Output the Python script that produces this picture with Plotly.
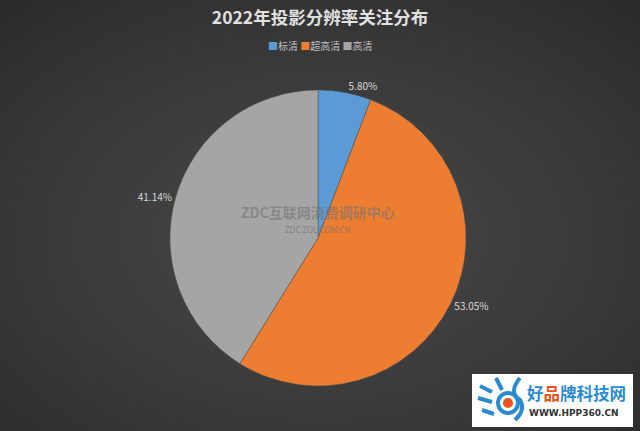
import plotly.graph_objects as go
import numpy as np
import zlib, struct, base64

labels = ["标清", "超高清", "高清"]
values = [5.80, 53.05, 41.14]
text_labels = ["5.80%", "53.05%", "41.14%"]
colors = ["#5B9BD5", "#ED7D31", "#A5A5A5"]

# ---- radial gradient background (style only) ----
W, H = 160, 108
yy, xx = np.mgrid[0:H, 0:W]
d = np.sqrt(((xx + 0.5) / W - 0.5) ** 2 * 4 + ((yy + 0.5) / H - 0.55) ** 2 * 4) / np.sqrt(2)
img = np.clip(71 - 26 * d ** 1.3, 0, 255).astype(np.uint8)
raw = b"".join(b"\x00" + img[r].tobytes() for r in range(H))
def chunk(t, data):
    c = struct.pack(">I", len(data)) + t + data
    return c + struct.pack(">I", zlib.crc32(t + data) & 0xffffffff)
png = (b"\x89PNG\r\n\x1a\n" + chunk(b"IHDR", struct.pack(">IIBBBBB", W, H, 8, 0, 0, 0, 0))
       + chunk(b"IDAT", zlib.compress(raw, 9)) + chunk(b"IEND", b""))
bg_uri = "data:image/png;base64," + base64.b64encode(png).decode()

def px(x): return x / 640
def py(y): return 1 - y / 431

fig = go.Figure()
fig.add_trace(go.Pie(
    labels=labels, values=values, text=text_labels,
    textinfo="text", textposition="outside",
    sort=False, direction="clockwise", rotation=0,
    marker=dict(colors=colors, line=dict(color="#505050", width=0.5)),
    textfont=dict(family="Noto Sans CJK SC", size=10, color="#D9D9D9"),
    domain=dict(x=[px(170), px(466)], y=[py(386), py(90)]),
    hoverinfo="label+percent",
    showlegend=False,
))

fig.update_layout(
    width=640, height=431,
    margin=dict(l=0, r=0, t=0, b=0),
    paper_bgcolor="#3C3C3C", plot_bgcolor="#3C3C3C",
    title=dict(text="<b>2022年投影分辨率关注分布</b>", x=0.5, xanchor="center",
               y=py(18), yanchor="middle",
               font=dict(family="Noto Sans CJK SC", size=17.5, color="#E0E0E0")),
    font=dict(family="Noto Sans CJK SC"),
    images=[dict(source=bg_uri, xref="paper", yref="paper", x=0, y=1, sizex=1, sizey=1,
                 xanchor="left", yanchor="top", sizing="stretch", layer="below")],
)

# compact legend row, built from the series names and colours
legend_html = " ".join(
    f"<span style='color:{c}'>■</span>{lab}" for lab, c in zip(labels, colors))
fig.add_annotation(text=legend_html, x=0.5, y=py(45), xref="paper", yref="paper",
                   xanchor="center", yanchor="middle", showarrow=False,
                   font=dict(family="Noto Sans CJK SC", size=10, color="#BFBFBF"))

fig.add_annotation(text="<b>ZDC互联网消费调研中心</b>", x=px(318), y=py(212),
                   xref="paper", yref="paper", showarrow=False, xanchor="center", yanchor="middle",
                   font=dict(family="Noto Sans CJK SC", size=14, color="rgba(115,115,115,0.6)"))
fig.add_annotation(text="ZDC.ZOL.COM.CN", x=px(318), y=py(229),
                   xref="paper", yref="paper", showarrow=False, xanchor="center", yanchor="middle",
                   font=dict(family="Noto Sans", size=8, color="rgba(115,115,115,0.7)"))

# ---- corner watermark badge ----
fig.add_shape(type="rect", xref="paper", yref="paper",
              x0=px(472), x1=px(633), y0=py(427), y1=py(374),
              fillcolor="white", line=dict(width=0))
fig.add_shape(type="circle", xref="paper", yref="paper",
              x0=px(498), x1=px(518), y0=py(413), y1=py(393),
              fillcolor="white", line=dict(color="#2A8BD0", width=4))
fig.add_shape(type="circle", xref="paper", yref="paper",
              x0=px(503), x1=px(513), y0=py(408), y1=py(398),
              fillcolor="#E8541C", line=dict(width=0))
for (x0, y0, x1, y1) in [(480, 386, 492, 392), (478, 398, 492, 402), (482, 410, 494, 414), (496, 378, 502, 390)]:
    fig.add_shape(type="line", xref="paper", yref="paper",
                  x0=px(x0), y0=py(y0), x1=px(x1), y1=py(y1),
                  line=dict(color="#2A8BD0", width=4))
fig.add_shape(type="path", xref="paper", yref="paper",
              path=f"M {px(520)},{py(378)} Q {px(508)},{py(392)} {px(520)},{py(400)} Q {px(526)},{py(410)} {px(515)},{py(420)}",
              line=dict(color="#2A8BD0", width=4))
fig.add_annotation(text="<b>好<span style='color:#E8541C'>品</span>牌科技网</b>", x=px(576), y=py(393),
                   xref="paper", yref="paper", showarrow=False, xanchor="center", yanchor="middle",
                   font=dict(family="Noto Sans CJK SC", size=16.5, color="#2A8BD0"))
fig.add_annotation(text="<b>WWW.HPP360.CN</b>", x=px(574), y=py(413),
                   xref="paper", yref="paper", showarrow=False, xanchor="center", yanchor="middle",
                   font=dict(family="DejaVu Sans", size=9, color="#333333"))

fig.write_html("out.html", config={"displayModeBar": False},
               post_script="document.body.style.margin='0';document.body.style.overflow='hidden';")
